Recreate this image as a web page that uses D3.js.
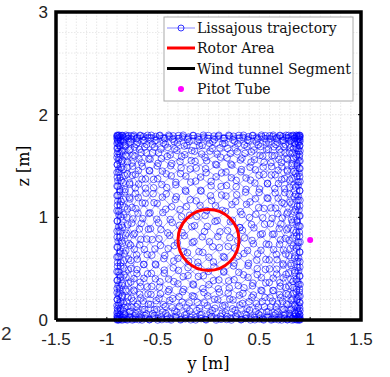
<!DOCTYPE html>
<html><head><meta charset="utf-8">
<script src="https://cdn.jsdelivr.net/npm/d3@7"></script>
<style>body{margin:0;background:#fff}svg{display:block}.serif{font-family:'DejaVu Serif',serif}</style>
</head><body>
<svg id="c" width="390" height="377"></svg>
<script>
// ---- data ----
const xTicks = [-1.5, -1, -0.5, 0, 0.5, 1, 1.5];
const xTickLabels = ["-1.5", "-1", "-0.5", "0", "0.5", "1", "1.5"];
const zTicks = [0, 1, 2, 3];
const zTickLabels = ["0", "1", "2", "3"];
// Lissajous trajectory definition (centre, amplitude, frequency, phase for y and z)
const lissCenter = [0, 0.9];
const lissAmp = [0.9, 0.9];
const lissFreq = [19, 18];
const lissPhase = [0.35, 0];
const lissSamples = 1037;
// Rotor area: centre y, centre z, radius
const rotor = [0, 0.78, 0.3];
// Wind tunnel segment corners
const tunnelY = [-1.5, 1.5, 1.5, -1.5, -1.5];
const tunnelZ = [0, 0, 3, 3, 0];
// Pitot tube position
const pitot = [1, 0.78];
const legendLabels = ["Lissajous trajectory", "Rotor Area", "Wind tunnel Segment", "Pitot Tube"];

const svg = d3.select("#c");
const x = d3.scaleLinear().domain([-1.5, 1.5]).range([56, 361]);
const y = d3.scaleLinear().domain([0, 3]).range([320, 12]);

// grid
const g = svg.append("g");
g.selectAll(".vm").data(d3.range(-15, 16).map(i => i / 10)).join("line")
  .attr("x1", d => x(d)).attr("x2", d => x(d)).attr("y1", y(0)).attr("y2", y(3))
  .attr("stroke", "#e2e2e2").attr("stroke-width", 0.8).attr("stroke-dasharray", "1.5,1.5");
g.selectAll(".hm").data(d3.range(0, 16).map(i => i / 5)).join("line")
  .attr("y1", d => y(d)).attr("y2", d => y(d)).attr("x1", x(-1.5)).attr("x2", x(1.5))
  .attr("stroke", "#e2e2e2").attr("stroke-width", 0.8).attr("stroke-dasharray", "1.5,1.5");

// trajectory
const pos = t => [lissCenter[0] + lissAmp[0] * Math.sin(lissFreq[0] * t + lissPhase[0]),
                  lissCenter[1] + lissAmp[1] * Math.sin(lissFreq[1] * t + lissPhase[1])];
const pts = d3.range(lissSamples + 1).map(i => pos(2 * Math.PI * i / lissSamples));
const fine = d3.range(lissSamples * 8 + 1).map(i => pos(2 * Math.PI * i / (lissSamples * 8)));
const line = d3.line().x(d => x(d[0])).y(d => y(d[1]));
svg.append("path").attr("d", line(fine)).attr("fill", "none")
  .attr("stroke", "#0000ff").attr("stroke-opacity", 0.55).attr("stroke-width", 0.7);
svg.append("g").selectAll("circle").data(pts).join("circle")
  .attr("cx", d => x(d[0])).attr("cy", d => y(d[1])).attr("r", 3.3)
  .attr("fill", "none").attr("stroke", "#0000ff").attr("stroke-opacity", 0.75).attr("stroke-width", 0.8);

// rotor
svg.append("circle").attr("cx", x(rotor[0])).attr("cy", y(rotor[1]))
  .attr("r", x(rotor[2]) - x(0)).attr("fill", "none").attr("stroke", "#ff0000").attr("stroke-width", 3);

// pitot
svg.append("circle").attr("cx", x(pitot[0])).attr("cy", y(pitot[1])).attr("r", 3).attr("fill", "#ff00ff");

// wind tunnel
svg.append("path").attr("d", line(tunnelY.map((v, i) => [v, tunnelZ[i]])))
  .attr("fill", "none").attr("stroke", "#000").attr("stroke-width", 3.5).attr("stroke-linejoin", "miter");

// ticks
const ax = svg.append("g");
ax.selectAll(".xt").data(xTicks).join("line")
  .attr("x1", d => x(d)).attr("x2", d => x(d)).attr("y1", y(0)).attr("y2", y(0) - 3).attr("stroke", "#000");
ax.selectAll(".zt").data(zTicks).join("line")
  .attr("y1", d => y(d)).attr("y2", d => y(d)).attr("x1", x(-1.5)).attr("x2", x(-1.5) + 3).attr("stroke", "#000");
ax.selectAll(".zt2").data(zTicks).join("line")
  .attr("y1", d => y(d)).attr("y2", d => y(d)).attr("x1", x(1.5)).attr("x2", x(1.5) - 3).attr("stroke", "#000");
ax.selectAll(".xl").data(xTicks).join("text")
  .attr("x", d => x(d)).attr("y", 345).attr("text-anchor", "middle")
  .attr("font-family", "Liberation Sans, Arial, sans-serif").attr("font-size", 17).attr("fill", "#222")
  .text((d, i) => xTickLabels[i]);
ax.selectAll(".zl").data(zTicks).join("text")
  .attr("x", 48).attr("y", d => y(d) + 6).attr("text-anchor", "end")
  .attr("font-family", "Liberation Sans, Arial, sans-serif").attr("font-size", 17).attr("fill", "#222")
  .text((d, i) => zTickLabels[i]);
svg.append("text").attr("x", 1).attr("y", 340).attr("font-family", "Liberation Sans, Arial, sans-serif")
  .attr("font-size", 19).attr("fill", "#333").text("2");

// axis labels
svg.append("text").attr("class", "serif").attr("x", x(0)).attr("y", 369).attr("text-anchor", "middle")
  .attr("font-size", 16).text("y [m]");
svg.append("text").attr("class", "serif").attr("transform", `translate(29,${y(1.5)}) rotate(-90)`).attr("text-anchor", "middle")
  .attr("font-size", 16).text("z [m]");

// legend
const lg = svg.append("g");
lg.append("rect").attr("x", 164).attr("y", 17).attr("width", 189).attr("height", 84)
  .attr("fill", "#fff").attr("stroke", "#aaa").attr("stroke-width", 1);
const rowY = [28, 48, 68.5, 89];
lg.append("line").attr("x1", 167).attr("x2", 195).attr("y1", rowY[0]).attr("y2", rowY[0]).attr("stroke", "#0000ff").attr("stroke-opacity", 0.6).attr("stroke-width", 0.8);
lg.append("circle").attr("cx", 181).attr("cy", rowY[0]).attr("r", 3).attr("fill", "none").attr("stroke", "#0000ff").attr("stroke-width", 0.8);
lg.append("line").attr("x1", 167).attr("x2", 195).attr("y1", rowY[1]).attr("y2", rowY[1]).attr("stroke", "#ff0000").attr("stroke-width", 3);
lg.append("line").attr("x1", 167).attr("x2", 195).attr("y1", rowY[2]).attr("y2", rowY[2]).attr("stroke", "#000").attr("stroke-width", 3);
lg.append("circle").attr("cx", 181).attr("cy", rowY[3]).attr("r", 3).attr("fill", "#ff00ff");
lg.selectAll(".lt").data(legendLabels).join("text").attr("class", "serif")
  .attr("x", 197).attr("y", (d, i) => rowY[i] + 5)
  .attr("font-size", 14).attr("textLength", null).attr("fill", "#111").text(d => d);
</script>
</body></html>
